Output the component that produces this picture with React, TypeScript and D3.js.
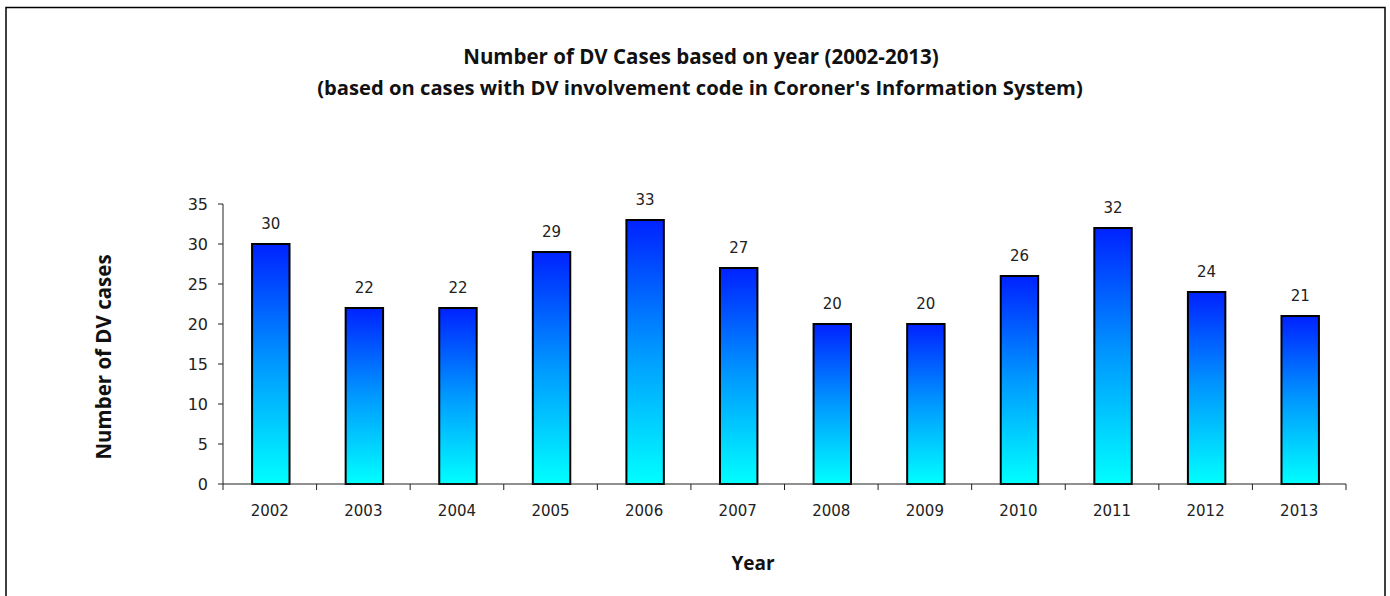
import React from "react";
import * as d3 from "d3";

const years = ["2002","2003","2004","2005","2006","2007","2008","2009","2010","2011","2012","2013"];
const cases = [30, 22, 22, 29, 33, 27, 20, 20, 26, 32, 24, 21];
const yTicks = [0, 5, 10, 15, 20, 25, 30, 35];
const titleLines = [
  "Number of DV Cases based on year (2002-2013)",
  "(based on cases with DV involvement code in Coroner's Information System)",
];

export default function App() {
  const W = 1390, H = 596;
  const left = 223, right = 1346, top = 204, bottom = 484;
  const x = d3.scaleBand<string>().domain(years).range([left, right]).paddingInner(0).paddingOuter(0);
  const y = d3.scaleLinear().domain([0, 35]).range([bottom, top]);
  const bw = x.bandwidth() * 0.4;
  const titleFont = "'Open Sans', 'Noto Sans', sans-serif";
  const tickFont = "'DejaVu Sans', Verdana, sans-serif";
  return (
    <svg width={W} height={H} style={{ position: "absolute", left: 0, top: 0 }}>
      <defs>
        <linearGradient id="barGrad" x1="0" y1="0" x2="0" y2="1">
          <stop offset="0" stopColor="#0022ff" />
          <stop offset="0.5" stopColor="#0099ff" />
          <stop offset="1" stopColor="#00ffff" />
        </linearGradient>
      </defs>
      <rect x={0} y={0} width={W} height={H} fill="#fff" />
      <rect x={6} y={7.5} width={1379} height={600} fill="none" stroke="#000" strokeWidth={1.5} />
      <text x={701} y={64} textAnchor="middle" fontFamily={titleFont} fontWeight="bold" fontSize={20.5} fill="#111">{titleLines[0]}</text>
      <text x={700} y={95} textAnchor="middle" fontFamily={titleFont} fontWeight="bold" fontSize={20.2} fill="#111">{titleLines[1]}</text>
      {/* y axis */}
      <line x1={left} x2={left} y1={top} y2={bottom} stroke="#222" strokeWidth={1} />
      {yTicks.map(t => (
        <g key={t}>
          <line x1={left - 5} x2={left} y1={y(t)} y2={y(t)} stroke="#222" />
          <text x={208} y={y(t)} dy="0.35em" textAnchor="end" fontFamily={tickFont} fontSize={16} fill="#222">{t}</text>
        </g>
      ))}
      {/* bars */}
      {years.map((yr, i) => {
        const cx = (x(yr) as number) + x.bandwidth() / 2 + 1;
        return (
          <g key={yr}>
            <rect x={cx - bw / 2} y={y(cases[i])} width={bw} height={bottom - y(cases[i])} fill="url(#barGrad)" stroke="#000" strokeWidth={2} />
            <text x={cx} y={y(cases[i]) - 15} textAnchor="middle" fontFamily={tickFont} fontSize={15} fill="#222">{cases[i]}</text>
            <text x={cx - 1} y={516} textAnchor="middle" fontFamily={tickFont} fontSize={15} fill="#222">{yr}</text>
          </g>
        );
      })}
      {/* x axis */}
      <line x1={left} x2={right} y1={bottom} y2={bottom} stroke="#222" strokeWidth={1} />
      {[...years.map(yr => x(yr) as number), right].map((px, i) => (
        <line key={i} x1={px} x2={px} y1={bottom} y2={bottom + 6} stroke="#222" />
      ))}
      <text x={753} y={570} textAnchor="middle" fontFamily={titleFont} fontWeight="bold" fontSize={19} fill="#111">Year</text>
      <text transform={`translate(111,357) rotate(-90)`} textAnchor="middle" fontFamily={titleFont} fontWeight="bold" fontSize={20.5} fill="#111">Number of DV cases</text>
    </svg>
  );
}
